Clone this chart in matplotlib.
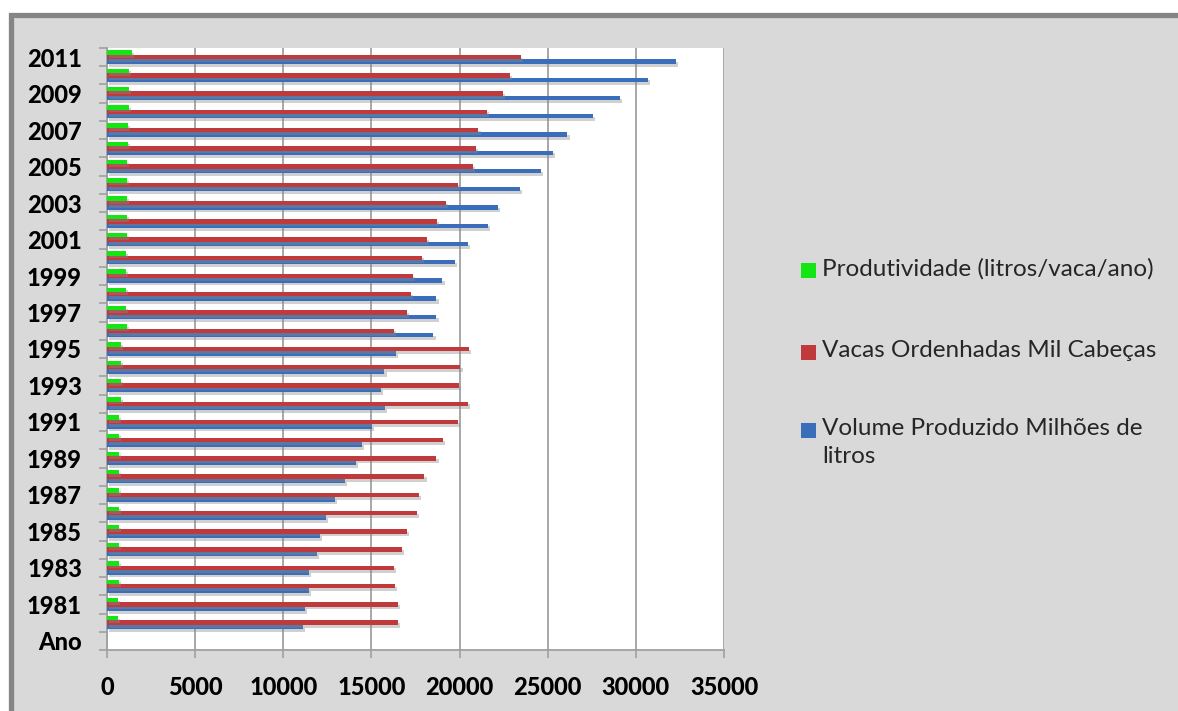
import numpy as np
import matplotlib
matplotlib.use('Agg')
import matplotlib.pyplot as plt
import matplotlib.patheffects as pe
from matplotlib.patches import Rectangle

# categories of the y axis, "Ano" is the empty header row at the bottom
anos = list(range(1980, 2012))
categorias = ['Ano'] + [str(a) for a in anos]

volume = [11120, 11250, 11440, 11440, 11910, 12060, 12440, 12910, 13520, 14100,
          14460, 15020, 15780, 15520, 15740, 16410, 18520, 18690, 18690, 19030,
          19750, 20460, 21630, 22200, 23450, 24620, 25310, 26120, 27580, 29090,
          30690, 32280]
vacas = [16500, 16500, 16350, 16290, 16710, 17010, 17600, 17720, 18010, 18690,
         19050, 19930, 20500, 19950, 20050, 20520, 16270, 17010, 17220, 17350,
         17880, 18160, 18730, 19240, 19930, 20770, 20910, 21070, 21560, 22440,
         22880, 23480]
produtividade = [640, 640, 700, 700, 700, 700, 700, 700, 700, 700,
                 700, 700, 780, 780, 780, 780, 1150, 1060, 1060, 1060,
                 1080, 1150, 1150, 1150, 1150, 1150, 1210, 1210, 1260, 1260,
                 1260, 1400]

series = [('Volume Produzido Milhões de\nlitros', volume, '#3A6DBA'),
          ('Vacas Ordenhadas Mil Cabeças', vacas, '#C0393B'),
          ('Produtividade (litros/vaca/ano)', produtividade, '#14E614')]

W, H = 1178, 711
fig = plt.figure(figsize=(W / 100, H / 100), dpi=100)
fig.patch.set_facecolor('white')

# gray chart area with dark frame
fig.add_artist(Rectangle((10.5 / W, -0.1), 1.2, (H - 14.5) / H + 0.1,
                         transform=fig.transFigure, facecolor='#D9D9D9',
                         edgecolor='#858585', lw=3.8, zorder=0))

ax = fig.add_axes([107 / W, 1 - 650 / H, 617 / W, 602 / H])
ax.set_facecolor('white')

pos = np.arange(1, len(anos) + 1)
h = 0.243
sombra = [pe.withSimplePatchShadow(offset=(1.5, -2), shadow_rgbFace='#8a8a8a', alpha=0.4),
          pe.Normal()]
for i, (nome, vals, cor) in enumerate(series):
    ax.barh(pos + (i - 1) * h, vals, height=h, color=cor, zorder=3,
            path_effects=sombra)

ax.set_xlim(0, 35000)
ax.set_ylim(-0.5, len(categorias) - 0.5)
ax.set_xticks(np.arange(0, 35001, 5000))
ax.set_xticklabels([str(v) for v in range(0, 35001, 5000)])
ax.set_yticks(np.arange(0, len(categorias), 2))
ax.set_yticklabels(categorias[::2])
ax.set_yticks(np.arange(-0.5, len(categorias)), minor=True)

ax.grid(axis='x', color='#A0A0A0', lw=1.3, zorder=1)
for s in ['top', 'right']:
    ax.spines[s].set_visible(False)
for s in ['left', 'bottom']:
    ax.spines[s].set_color('#A0A0A0')
    ax.spines[s].set_linewidth(1.3)

fonte = ['Lato', 'DejaVu Sans']
ax.tick_params(axis='y', which='major', length=0, pad=18)
ax.tick_params(axis='y', which='minor', length=6, color='#A0A0A0', width=1.2)
ax.tick_params(axis='x', length=6, color='#A0A0A0', width=1.2, pad=13)
for lab in ax.get_xticklabels() + ax.get_yticklabels():
    lab.set_family(fonte)
    lab.set_fontweight('black')
    lab.set_fontsize(17)
    lab.set_color('black')

# legend, top entry is the last series
legenda = [(270, series[2]), (352, series[1]), (430, series[0])]
for y, (nome, vals, cor) in legenda:
    fig.add_artist(Rectangle((801 / W, 1 - (y + 7.5) / H), 15 / W, 15 / H,
                             transform=fig.transFigure, facecolor=cor,
                             edgecolor='none'))
    fig.text(822 / W, 1 - (y - 12) / H, nome, family=fonte, fontsize=17.5,
             color='#262626', va='top', ha='left', linespacing=1.4)

fig.savefig('out.png', dpi=100)
